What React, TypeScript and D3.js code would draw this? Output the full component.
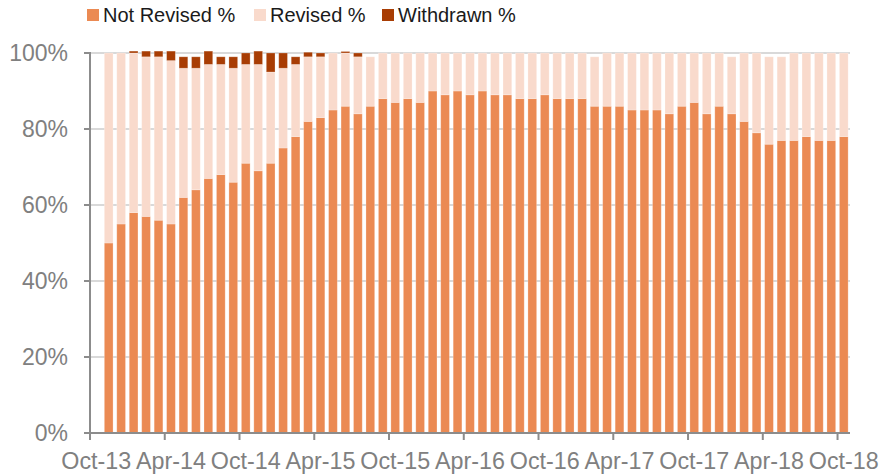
import React from "react";
import * as d3 from "d3";

const months = [
  "Oct-13","Nov-13","Dec-13","Jan-14","Feb-14","Mar-14","Apr-14","May-14","Jun-14","Jul-14","Aug-14","Sep-14",
  "Oct-14","Nov-14","Dec-14","Jan-15","Feb-15","Mar-15","Apr-15","May-15","Jun-15","Jul-15","Aug-15","Sep-15",
  "Oct-15","Nov-15","Dec-15","Jan-16","Feb-16","Mar-16","Apr-16","May-16","Jun-16","Jul-16","Aug-16","Sep-16",
  "Oct-16","Nov-16","Dec-16","Jan-17","Feb-17","Mar-17","Apr-17","May-17","Jun-17","Jul-17","Aug-17","Sep-17",
  "Oct-17","Nov-17","Dec-17","Jan-18","Feb-18","Mar-18","Apr-18","May-18","Jun-18","Jul-18","Aug-18","Sep-18",
  "Oct-18",
];

const notRevised = [
  0, 50, 55, 58, 57, 56, 55, 62, 64, 67, 68, 66,
  71, 69, 71, 75, 78, 82, 83, 85, 86, 84, 86, 88,
  87, 88, 87, 90, 89, 90, 89, 90, 89, 89, 88, 88,
  89, 88, 88, 88, 86, 86, 86, 85, 85, 85, 84, 86,
  87, 84, 86, 84, 82, 79, 76, 77, 77, 78, 77, 77,
  78,
];

const revised = [
  0, 50, 45, 42, 42, 43, 43, 34, 32, 30, 29, 30,
  26, 28, 24, 21, 19, 17, 16, 15, 14, 15, 13, 12,
  13, 12, 13, 10, 11, 10, 11, 10, 11, 11, 12, 12,
  11, 12, 12, 12, 13, 14, 14, 15, 15, 15, 16, 14,
  13, 16, 14, 15, 18, 21, 23, 22, 23, 22, 23, 23,
  22,
];

const withdrawn = [
  0, 0, 0, 0.5, 1.5, 1.5, 2.5, 3, 3, 3.5, 2, 3,
  3, 3.5, 5, 4, 2, 1.2, 1, 0, 0.4, 1, 0, 0,
  0, 0, 0, 0, 0, 0, 0, 0, 0, 0, 0, 0,
  0, 0, 0, 0, 0, 0, 0, 0, 0, 0, 0, 0,
  0, 0, 0, 0, 0, 0, 0, 0, 0, 0, 0, 0,
  0,
];

const yTicks = [0, 20, 40, 60, 80, 100];
const xTickLabels = ["Oct-13","Apr-14","Oct-14","Apr-15","Oct-15","Apr-16","Oct-16","Apr-17","Oct-17","Apr-18","Oct-18"];

const seriesNames = ["Not Revised %", "Revised %", "Withdrawn %"];
const seriesKeys = ["nr", "rv", "wd"];
const colors = ["#EB8A53", "#F9DACC", "#A83D04"];

const W = 879;
const H = 476;
const left = 90;
const right = 850;
const top = 53;
const bottom = 433;

export default function App() {
  const rows = months.map((m, i) => ({ m, nr: notRevised[i], rv: revised[i], wd: withdrawn[i] }));
  const x = d3.scaleBand<string>().domain(months).range([left, right]).paddingInner(0.3).paddingOuter(0.15);
  const y = d3.scaleLinear().domain([0, 100]).range([bottom, top]);
  const stack = d3.stack<any>().keys(seriesKeys);
  const layers = stack(rows);
  const step = x.step();
  const bandStart = (m: string) => (x(m) as number) - x.paddingInner() * step / 2;

  const fontAxis = "'Liberation Sans', Arial, sans-serif";
  const legendX = [87, 254, 382];

  return (
    <div style={{ position: "absolute", left: 0, top: 0 }}>
      <svg width={W} height={H} style={{ display: "block", background: "#fff" }}>
        {yTicks.map((t) => (
          <line key={"g" + t} x1={left} x2={right} y1={y(t)} y2={y(t)} stroke="#D9D9D9" strokeWidth={2} />
        ))}
        {layers.map((layer, li) => (
          <g key={seriesKeys[li]} fill={colors[li]}>
            {layer.map((d, i) => {
              const h = y(d[0]) - y(d[1]);
              if (h <= 0) return null;
              return (
                <rect
                  key={i}
                  x={x(months[i])}
                  y={y(d[1])}
                  width={x.bandwidth()}
                  height={h}
                  stroke="rgba(255,255,255,0.3)"
                  strokeWidth={0.8}
                />
              );
            })}
          </g>
        ))}
        <line x1={left} x2={left} y1={top - 1} y2={bottom + 1} stroke="#8C8C8C" strokeWidth={2} />
        {yTicks.map((t) => (
          <g key={"yt" + t}>
            <line x1={left - 6} x2={left} y1={y(t)} y2={y(t)} stroke="#8C8C8C" strokeWidth={2} />
            <text x={68} y={y(t)} dy="0.36em" textAnchor="end" fontFamily={fontAxis} fontSize={23} fill="#808080">
              {t}%
            </text>
          </g>
        ))}
        <line x1={left - 1} x2={right} y1={bottom} y2={bottom} stroke="#8C8C8C" strokeWidth={2} />
        {xTickLabels.map((lab) => {
          const bx = bandStart(lab);
          return (
            <g key={"xt" + lab}>
              <line x1={bx} x2={bx} y1={bottom} y2={bottom + 7} stroke="#8C8C8C" strokeWidth={2} />
              <text x={bx + step / 2} y={468.5} textAnchor="middle" fontFamily={fontAxis} fontSize={23.3} fill="#808080">
                {lab}
              </text>
            </g>
          );
        })}
        {seriesNames.map((n, i) => (
          <g key={"lg" + i}>
            <rect x={legendX[i]} y={9} width={12} height={12} fill={colors[i]} />
            <text x={legendX[i] + 16} y={21.5} fontFamily={fontAxis} fontSize={20} fill="#1A1A1A">
              {n}
            </text>
          </g>
        ))}
      </svg>
    </div>
  );
}
